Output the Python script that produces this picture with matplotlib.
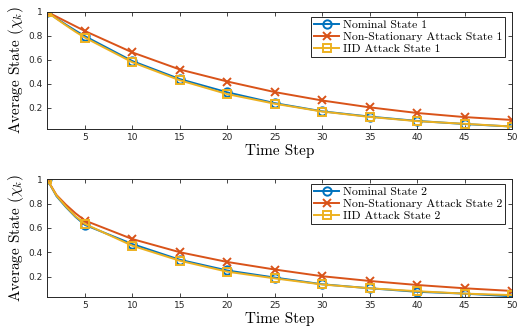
import numpy as np
import matplotlib.pyplot as plt

plt.rcParams['mathtext.fontset'] = 'cm'

# time steps (markers every 5 steps)
steps = [1, 2, 3, 4, 5, 10, 15, 20, 25, 30, 35, 40, 45, 50]

nominal_1 = [1.0, 0.945, 0.893, 0.844, 0.797, 0.59, 0.44, 0.33, 0.24, 0.172, 0.128, 0.092, 0.066, 0.045]
nonstat_1 = [1.0, 0.96, 0.92, 0.88, 0.84, 0.662, 0.52, 0.42, 0.332, 0.262, 0.205, 0.158, 0.124, 0.10]
iid_1 = [1.0, 0.942, 0.887, 0.834, 0.785, 0.58, 0.43, 0.315, 0.235, 0.17, 0.125, 0.09, 0.068, 0.045]

nominal_2 = [1.0, 0.86, 0.77, 0.69, 0.624, 0.467, 0.338, 0.25, 0.192, 0.137, 0.104, 0.075, 0.06, 0.038]
nonstat_2 = [1.0, 0.87, 0.79, 0.72, 0.66, 0.508, 0.40, 0.32, 0.258, 0.203, 0.164, 0.131, 0.104, 0.082]
iid_2 = [1.0, 0.865, 0.775, 0.695, 0.632, 0.453, 0.33, 0.24, 0.185, 0.135, 0.104, 0.08, 0.06, 0.048]

xticks = [5, 10, 15, 20, 25, 30, 35, 40, 45, 50]
yticks = [0.2, 0.4, 0.6, 0.8, 1.0]
ytick_labels = ['0.2', '0.4', '0.6', '0.8', '1']

blue, red, yellow = '#0072BD', '#D95319', '#EDB120'
mark_idx = [0, 4, 5, 6, 7, 8, 9, 10, 11, 12, 13]

fig = plt.figure(figsize=(5.19, 3.29), dpi=100)
ax1 = fig.add_axes([0.0906, 0.608, 0.896, 0.356])
ax2 = fig.add_axes([0.0906, 0.0964, 0.896, 0.359])

panels = [
    (ax1, nominal_1, nonstat_1, iid_1, '1', 0.025),
    (ax2, nominal_2, nonstat_2, iid_2, '2', 0.03),
]

for ax, nom, ns, iid, k, ymin in panels:
    ax.plot(steps, nom, color=blue, lw=1.4, marker='o', ms=6, mfc='none', mew=1.4,
            markevery=mark_idx, label='Nominal State ' + k)
    ax.plot(steps, ns, color=red, lw=1.4, marker='x', ms=6, mew=1.4,
            markevery=mark_idx, label='Non-Stationary Attack State ' + k)
    ax.plot(steps, iid, color=yellow, lw=1.4, marker='s', ms=5.5, mfc='none', mew=1.4,
            markevery=mark_idx, label='IID Attack State ' + k)

    ax.set_xlim(1, 50)
    ax.set_ylim(ymin, 1.0)
    ax.set_xticks(xticks)
    ax.set_yticks(yticks)
    ax.set_yticklabels(ytick_labels)
    ax.tick_params(direction='in', top=True, right=True, labelsize=6.5,
                   colors='#262626', length=3, width=0.6, pad=3)
    for s in ax.spines.values():
        s.set_color('#262626')
        s.set_linewidth(0.7)
    ax.set_xlabel('Time Step', family='cmr10', fontsize=11, labelpad=1)
    ax.set_ylabel(r'Average State $(\chi_k)$', family='cmr10', fontsize=11, labelpad=2)

    leg = ax.legend(loc='upper right', bbox_to_anchor=(0.985, 0.96),
                    prop={'family': 'cmr10', 'size': 8.5}, fancybox=False,
                    framealpha=1, edgecolor='#262626', borderpad=0.25,
                    labelspacing=0.15, handlelength=2.1, handletextpad=0.3,
                    borderaxespad=0)
    leg.get_frame().set_linewidth(0.7)

fig.savefig('out.png', dpi=100)
